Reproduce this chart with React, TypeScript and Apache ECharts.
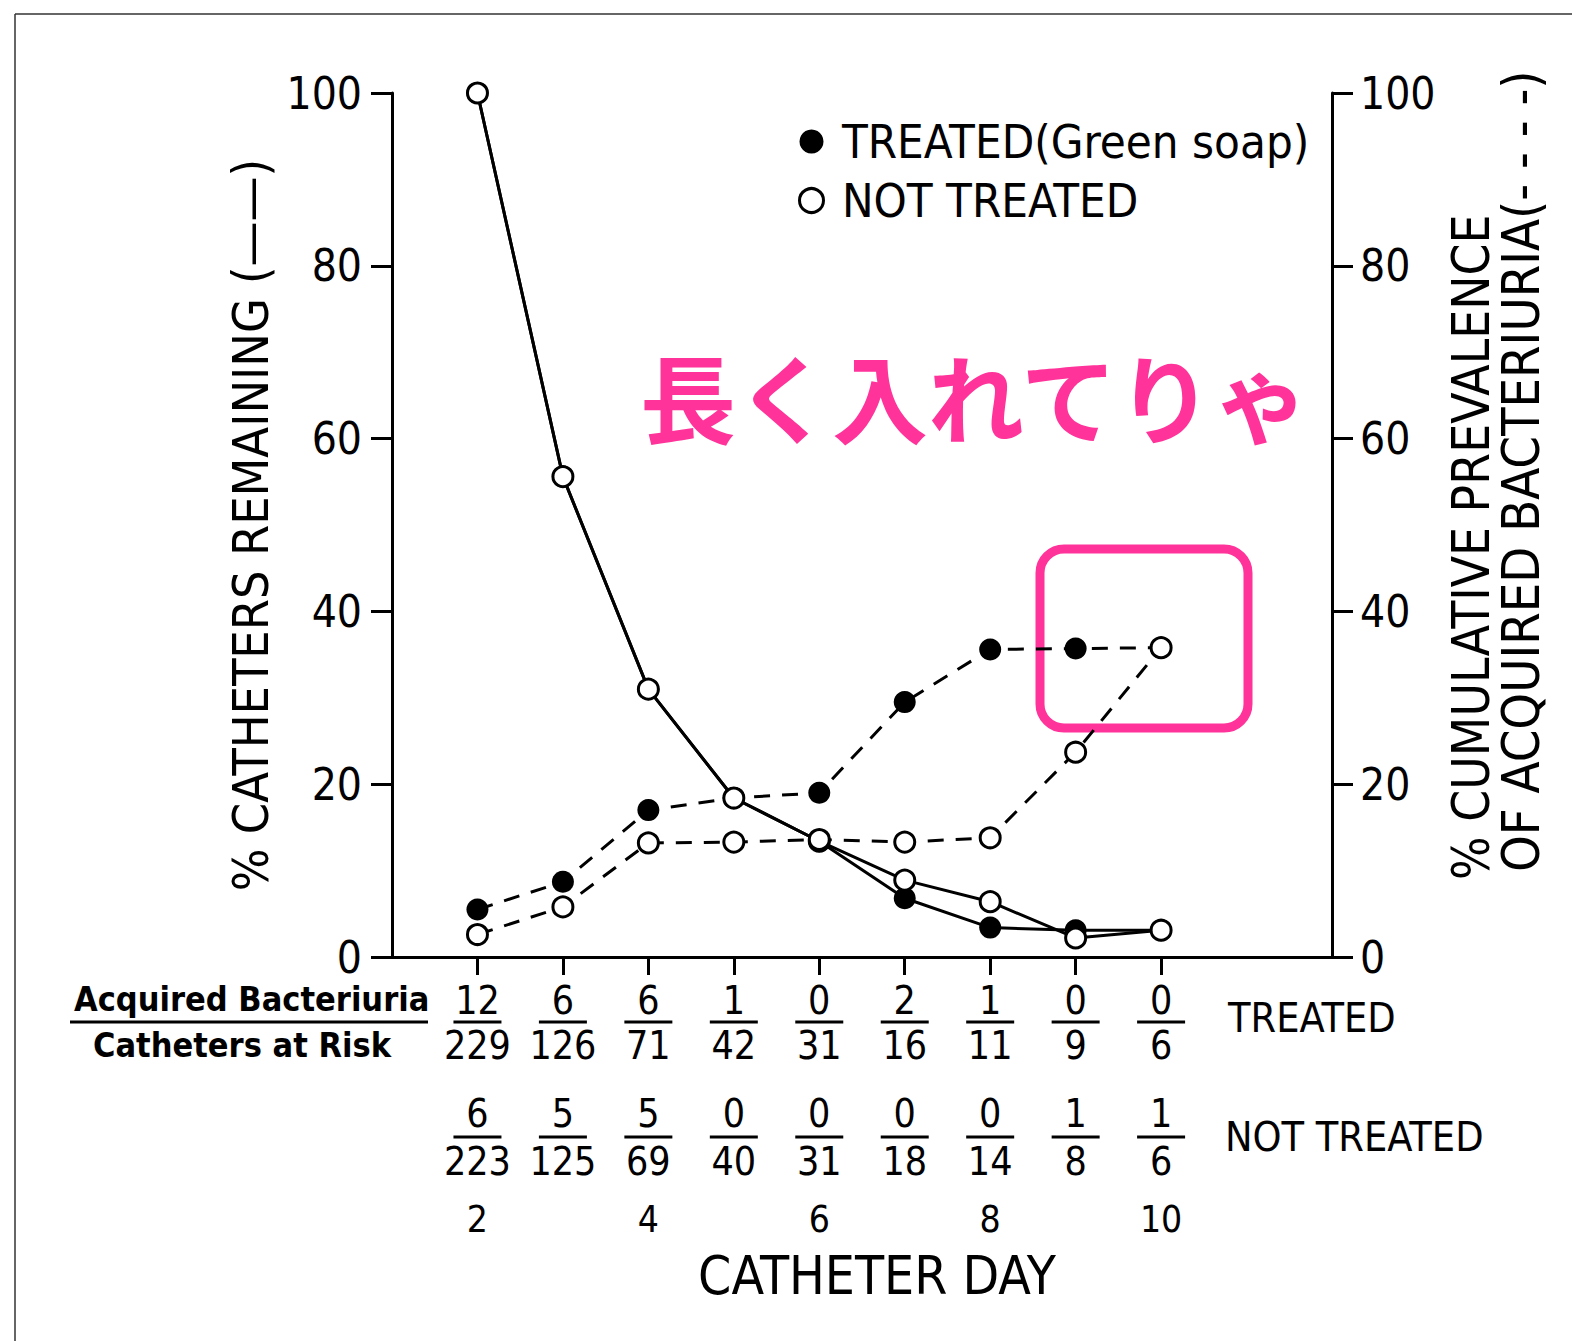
import React, { useEffect, useRef } from "react";
import * as echarts from "echarts";

const days = [2, 3, 4, 5, 6, 7, 8, 9, 10];
const dayLabels = [2, 4, 6, 8, 10];

const remainingTreated = [100, 55.6, 31.0, 18.4, 13.4, 6.8, 3.4, 3.1, 3.1];
const remainingNotTreated = [100, 55.6, 31.0, 18.4, 13.4, 8.9, 6.4, 2.2, 3.1];
const bacteriuriaTreated = [5.5, 8.7, 17.0, 18.4, 19.0, 29.5, 35.6, 35.7, 35.8];
const bacteriuriaNotTreated = [2.6, 5.8, 13.2, 13.3, 13.6, 13.3, 13.8, 23.7, 35.8];

const acquiredTreated = [12, 6, 6, 1, 0, 2, 1, 0, 0];
const atRiskTreated = [229, 126, 71, 42, 31, 16, 11, 9, 6];
const acquiredNotTreated = [6, 5, 5, 0, 0, 0, 0, 1, 1];
const atRiskNotTreated = [223, 125, 69, 40, 31, 18, 14, 8, 6];

const TREATED = "TREATED(Green soap)";
const NOT_TREATED = "NOT TREATED";

const FONT = "'DejaVu Sans Condensed', 'Liberation Sans Narrow', 'DejaVu Sans', sans-serif";
const PINK = "#FF3399";

const pairs = (vals: number[]) => days.map((d, i) => [d, vals[i]]);

function fractionRenderer(numY: number, barY: number, denY: number) {
  return (params: any, api: any) => {
    const x = api.coord([api.value(0), 0])[0];
    const num = String(api.value(1));
    const den = String(api.value(2));
    const txt = (t: string, y: number) => ({
      type: "text",
      x,
      y,
      style: {
        text: t,
        fontSize: 39,
        fontFamily: FONT,
        fill: "#000",
        align: "center",
        verticalAlign: "middle",
        textAlign: "center",
        textVerticalAlign: "middle",
      },
    });
    return {
      type: "group",
      children: [
        txt(num, numY),
        {
          type: "line",
          shape: { x1: x - 24, y1: barY, x2: x + 24, y2: barY },
          style: { stroke: "#000", lineWidth: 3 },
        },
        txt(den, denY),
      ],
    };
  };
}

export default function App() {
  const ref = useRef<HTMLDivElement>(null);
  useEffect(() => {
    if (!ref.current) return;
    const chart = echarts.init(ref.current, null, { renderer: "svg" });
    const axisCommon = {
      type: "value",
      min: 0,
      max: 100,
      interval: 20,
      splitLine: { show: false },
      axisLine: { show: true, lineStyle: { color: "#000", width: 3 } },
      axisTick: { show: true, inside: false, length: 21, lineStyle: { color: "#000", width: 3 } },
    };
    const option: any = {
      animation: false,
      backgroundColor: "#fff",
      grid: { left: 392, top: 93, width: 940, height: 864, containLabel: false },
      legend: {
        orient: "vertical",
        left: 793,
        top: 113,
        itemGap: 12,
        itemWidth: 24,
        itemHeight: 24,
        selectedMode: false,
        formatter: (n: string) => " " + n,
        textStyle: { fontSize: 47, fontFamily: FONT, color: "#000" },
        data: [
          { name: TREATED, icon: "circle", itemStyle: { color: "#000", borderWidth: 0 } },
          {
            name: NOT_TREATED,
            icon: "circle",
            itemStyle: { color: "#fff", borderColor: "#000", borderWidth: 3 },
          },
        ],
      },
      xAxis: {
        type: "value",
        min: 1,
        max: 12,
        splitLine: { show: false },
        axisLine: { show: true, onZero: false, lineStyle: { color: "#000", width: 3 } },
        axisTick: {
          show: true,
          inside: false,
          length: 18,
          customValues: days,
          lineStyle: { color: "#000", width: 3 },
        },
        axisLabel: {
          customValues: dayLabels,
          margin: 244,
          fontSize: 37,
          fontFamily: FONT,
          color: "#000",
        },
        name: "CATHETER DAY",
        nameLocation: "middle",
        nameGap: 292,
        nameTextStyle: {
          fontSize: 53,
          fontFamily: FONT,
          color: "#000",
          padding: [0, 0, 0, 30],
        },
      },
      yAxis: [
        {
          ...axisCommon,
          position: "left",
          axisLabel: { margin: 30, fontSize: 44, fontFamily: FONT, color: "#000" },
          name: "% CATHETERS REMAINING (——)",
          nameLocation: "middle",
          nameRotate: 90,
          nameGap: 100,
          nameTextStyle: { fontSize: 50, fontFamily: FONT, color: "#000" },
        },
        {
          ...axisCommon,
          position: "right",
          axisLabel: { margin: 28, fontSize: 44, fontFamily: FONT, color: "#000" },
        },
      ],
      graphic: [
        {
          type: "line",
          shape: { x1: 15, y1: 14, x2: 1572, y2: 14 },
          style: { stroke: "#333", lineWidth: 1.5 },
        },
        {
          type: "line",
          shape: { x1: 15, y1: 14, x2: 15, y2: 1341 },
          style: { stroke: "#333", lineWidth: 1.5 },
        },
        {
          type: "text",
          x: 1471,
          y: 880,
          rotation: Math.PI / 2,
          style: {
            text: "% CUMULATIVE PREVALENCE",
            fontSize: 51,
            fontFamily: FONT,
            fill: "#000",
            align: "left",
            verticalAlign: "middle",
          },
        },
        {
          type: "text",
          x: 1521,
          y: 872,
          rotation: Math.PI / 2,
          style: {
            text: "OF ACQUIRED BACTERIURIA(- - - -)",
            fontSize: 52,
            fontFamily: FONT,
            fill: "#000",
            align: "left",
            verticalAlign: "middle",
          },
        },
        {
          type: "text",
          x: 74,
          y: 999,
          style: {
            text: "Acquired Bacteriuria",
            fontSize: 34,
            fontWeight: "bold",
            fontFamily: FONT,
            fill: "#000",
            align: "left",
            verticalAlign: "middle",
          },
        },
        {
          type: "line",
          shape: { x1: 70, y1: 1022, x2: 428, y2: 1022 },
          style: { stroke: "#000", lineWidth: 3 },
        },
        {
          type: "text",
          x: 242,
          y: 1045,
          style: {
            text: "Catheters at Risk",
            fontSize: 34,
            fontWeight: "bold",
            fontFamily: FONT,
            fill: "#000",
            align: "center",
            verticalAlign: "middle",
          },
        },
        {
          type: "text",
          x: 1228,
          y: 1018,
          style: {
            text: "TREATED",
            fontSize: 41,
            fontFamily: FONT,
            fill: "#000",
            align: "left",
            verticalAlign: "middle",
          },
        },
        {
          type: "text",
          x: 1225,
          y: 1137,
          style: {
            text: "NOT TREATED",
            fontSize: 41,
            fontFamily: FONT,
            fill: "#000",
            align: "left",
            verticalAlign: "middle",
          },
        },
        {
          type: "text",
          x: 640,
          y: 394,
          style: {
            text: "長く入れてりゃ",
            fontSize: 96,
            fontWeight: "bold",
            fontFamily: "'Noto Sans CJK JP', sans-serif",
            fill: PINK,
            align: "left",
            verticalAlign: "middle",
          },
        },
        {
          type: "rect",
          shape: { x: 1040, y: 549, width: 208, height: 179, r: 24 },
          style: { stroke: PINK, lineWidth: 9, fill: "none" },
        },
      ],
      series: [
        {
          name: TREATED,
          type: "line",
          yAxisIndex: 0,
          data: pairs(remainingTreated),
          symbol: "circle",
          symbolSize: 22,
          lineStyle: { color: "#000", width: 3 },
          itemStyle: { color: "#000" },
          z: 3,
        },
        {
          name: NOT_TREATED,
          type: "line",
          yAxisIndex: 0,
          data: pairs(remainingNotTreated),
          symbol: "circle",
          symbolSize: 20,
          lineStyle: { color: "#000", width: 3 },
          itemStyle: { color: "#fff", borderColor: "#000", borderWidth: 3 },
          z: 4,
        },
        {
          name: TREATED,
          type: "line",
          yAxisIndex: 1,
          data: pairs(bacteriuriaTreated),
          symbol: "circle",
          symbolSize: 22,
          lineStyle: { color: "#000", width: 3, type: [16, 12] },
          itemStyle: { color: "#000" },
          z: 3,
        },
        {
          name: NOT_TREATED,
          type: "line",
          yAxisIndex: 1,
          data: pairs(bacteriuriaNotTreated),
          symbol: "circle",
          symbolSize: 20,
          lineStyle: { color: "#000", width: 3, type: [16, 12] },
          itemStyle: { color: "#fff", borderColor: "#000", borderWidth: 3 },
          z: 4,
        },
        {
          type: "custom",
          coordinateSystem: "cartesian2d",
          xAxisIndex: 0,
          yAxisIndex: 0,
          clip: false,
          silent: true,
          data: days.map((d, i) => [d, acquiredTreated[i], atRiskTreated[i]]),
          renderItem: fractionRenderer(1000, 1022, 1045),
        },
        {
          type: "custom",
          coordinateSystem: "cartesian2d",
          xAxisIndex: 0,
          yAxisIndex: 0,
          clip: false,
          silent: true,
          data: days.map((d, i) => [d, acquiredNotTreated[i], atRiskNotTreated[i]]),
          renderItem: fractionRenderer(1113, 1137, 1161),
        },
      ],
    };
    chart.setOption(option);
    return () => chart.dispose();
  }, []);
  return (
    <div
      ref={ref}
      style={{ position: "absolute", left: 0, top: 0, width: 1572, height: 1341 }}
    />
  );
}
